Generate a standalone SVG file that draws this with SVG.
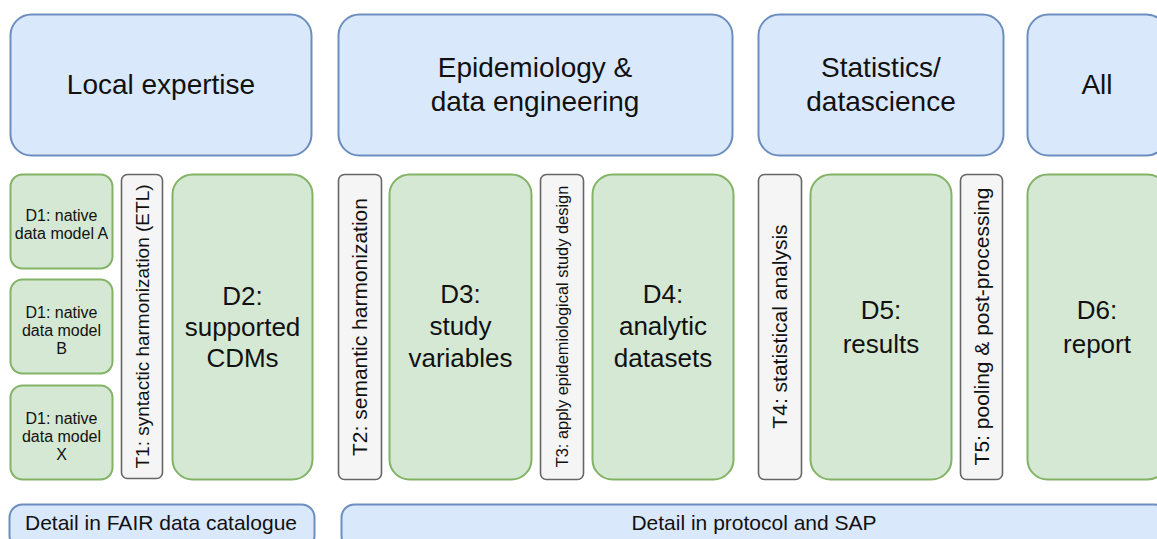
<svg xmlns="http://www.w3.org/2000/svg" width="1157" height="539" viewBox="0 0 1157 539">
  <style>
    text { font-family: "Liberation Sans", Arial, Helvetica, sans-serif; fill: #111; text-anchor: middle; }
    .role { fill: #dae8fc; stroke: #6c8ebf; stroke-width: 2; }
    .data { fill: #d5e8d4; stroke: #82b366; stroke-width: 2; }
    .task { fill: #f5f5f5; stroke: #666666; stroke-width: 1.6; }
    .h { font-size: 28px; }
    .d { font-size: 26px; }
    .d1 { font-size: 16px; }
    .foot { font-size: 21px; }
  </style>
  <rect width="1157" height="539" fill="#ffffff"/>

  <!-- Role headers -->
  <g id="role-local">
    <rect class="role" x="10.5" y="14.5" width="301" height="141" rx="21"/>
    <text class="h" x="161" y="93.5">Local expertise</text>
  </g>
  <g id="role-epi">
    <rect class="role" x="338.5" y="14.5" width="394" height="141" rx="21"/>
    <text class="h" x="535" y="77">Epidemiology &amp;</text>
    <text class="h" x="535" y="111">data engineering</text>
  </g>
  <g id="role-stats">
    <rect class="role" x="758.5" y="14.5" width="245" height="141" rx="21"/>
    <text class="h" x="881" y="77">Statistics/</text>
    <text class="h" x="881" y="111">datascience</text>
  </g>
  <g id="role-all">
    <rect class="role" x="1027.5" y="14.5" width="140" height="141" rx="21"/>
    <text class="h" x="1097" y="93.5">All</text>
  </g>

  <!-- Native data models -->
  <g id="d1-a">
    <rect class="data" x="10.5" y="174.5" width="102" height="94" rx="12"/>
    <text class="d1" x="61.5" y="221">D1: native</text>
    <text class="d1" x="61.5" y="239">data model A</text>
  </g>
  <g id="d1-b">
    <rect class="data" x="10.5" y="279.5" width="102" height="94" rx="12"/>
    <text class="d1" x="61.5" y="318">D1: native</text>
    <text class="d1" x="61.5" y="336">data model</text>
    <text class="d1" x="61.5" y="354">B</text>
  </g>
  <g id="d1-x">
    <rect class="data" x="10.5" y="385.5" width="102" height="94" rx="12"/>
    <text class="d1" x="61.5" y="424">D1: native</text>
    <text class="d1" x="61.5" y="442">data model</text>
    <text class="d1" x="61.5" y="460">X</text>
  </g>

  <!-- Tasks (vertical labels) -->
  <g id="t1">
    <rect class="task" x="121.5" y="174.5" width="41" height="304" rx="6"/>
    <text font-size="19" transform="translate(142 326.5) rotate(-90)" y="6.7">T1: syntactic harmonization (ETL)</text>
  </g>
  <g id="t2">
    <rect class="task" x="338.5" y="174.5" width="43" height="305" rx="6"/>
    <text font-size="21" transform="translate(360 327) rotate(-90)" y="7.4">T2: semantic harmonization</text>
  </g>
  <g id="t3">
    <rect class="task" x="540.5" y="174.5" width="43" height="305" rx="6"/>
    <text font-size="16.4" transform="translate(562 326.5) rotate(-90)" y="5.8">T3: apply epidemiological study design</text>
  </g>
  <g id="t4">
    <rect class="task" x="758.5" y="174.5" width="43" height="305" rx="6"/>
    <text font-size="21" transform="translate(780 326.5) rotate(-90)" y="7.4">T4: statistical analysis</text>
  </g>
  <g id="t5">
    <rect class="task" x="960.5" y="174.5" width="42" height="305" rx="6"/>
    <text font-size="21" transform="translate(981.5 326.5) rotate(-90)" y="7.4">T5: pooling &amp; post-processing</text>
  </g>

  <!-- Data products -->
  <g id="d2">
    <rect class="data" x="172.5" y="174.5" width="140" height="305" rx="20"/>
    <text class="d" x="242.5" y="305">D2:</text>
    <text class="d" x="242.5" y="336">supported</text>
    <text class="d" x="242.5" y="367">CDMs</text>
  </g>
  <g id="d3">
    <rect class="data" x="389.5" y="174.5" width="142" height="305" rx="20"/>
    <text class="d" x="460.5" y="303">D3:</text>
    <text class="d" x="460.5" y="335">study</text>
    <text class="d" x="460.5" y="367">variables</text>
  </g>
  <g id="d4">
    <rect class="data" x="592.5" y="174.5" width="141" height="305" rx="20"/>
    <text class="d" x="663" y="303">D4:</text>
    <text class="d" x="663" y="335">analytic</text>
    <text class="d" x="663" y="367">datasets</text>
  </g>
  <g id="d5">
    <rect class="data" x="810.5" y="174.5" width="141" height="305" rx="20"/>
    <text class="d" x="881" y="319">D5:</text>
    <text class="d" x="881" y="353">results</text>
  </g>
  <g id="d6">
    <rect class="data" x="1027.5" y="174.5" width="140" height="305" rx="20"/>
    <text class="d" x="1097" y="319">D6:</text>
    <text class="d" x="1097" y="353">report</text>
  </g>

  <!-- Documentation footers -->
  <g id="foot-fair">
    <rect class="role" x="9.5" y="504.5" width="305" height="44" rx="13"/>
    <text class="foot" x="161" y="530">Detail in FAIR data catalogue</text>
  </g>
  <g id="foot-protocol">
    <rect class="role" x="341.5" y="504.5" width="826" height="44" rx="13"/>
    <text class="foot" x="754" y="530">Detail in protocol and SAP</text>
  </g>

  <g id="connectors"/>
</svg>
